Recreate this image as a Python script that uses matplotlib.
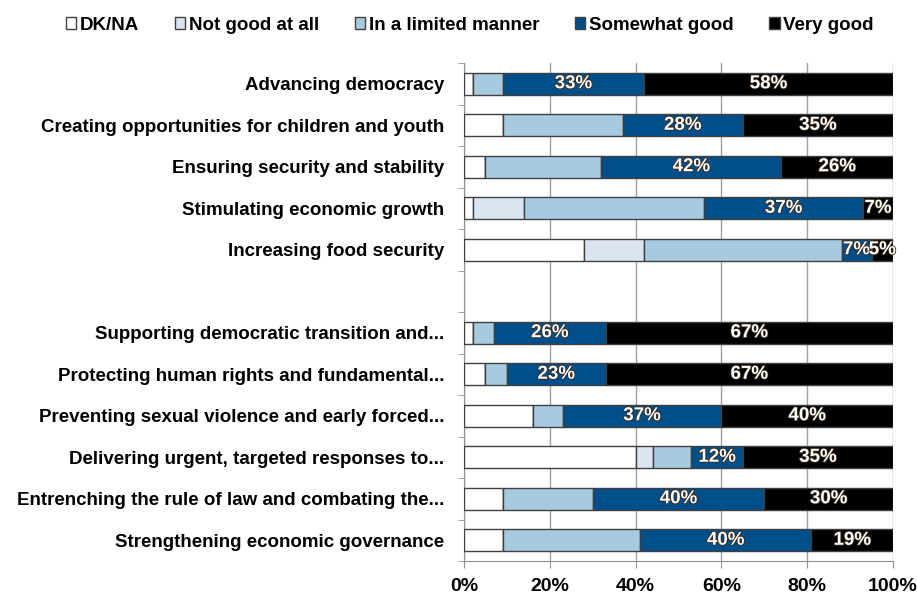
import numpy as np
import matplotlib.pyplot as plt
import matplotlib.patheffects as pe

plt.rcParams['font.family'] = ['Liberation Sans', 'DejaVu Sans']
plt.rcParams['font.weight'] = 'bold'

categories = [
    "Advancing democracy",
    "Creating opportunities for children and youth",
    "Ensuring security and stability",
    "Stimulating economic growth",
    "Increasing food security",
    "Supporting democratic transition and...",
    "Protecting human rights and fundamental...",
    "Preventing sexual violence and early forced...",
    "Delivering urgent, targeted responses to...",
    "Entrenching the rule of law and combating the...",
    "Strengthening economic governance",
]
# slot 5 is left empty between the two groups
slots = [0, 1, 2, 3, 4, 6, 7, 8, 9, 10, 11]

dk_na = [2, 9, 5, 2, 28, 2, 5, 16, 40, 9, 9]
not_good = [0, 0, 0, 12, 14, 0, 0, 0, 4, 0, 0]
limited = [7, 28, 27, 42, 46, 5, 5, 7, 9, 21, 32]
somewhat = [33, 28, 42, 37, 7, 26, 23, 37, 12, 40, 40]
very_good = [58, 35, 26, 7, 5, 67, 67, 40, 35, 30, 19]

series = [
    ("DK/NA", dk_na, "#ffffff", False),
    ("Not good at all", not_good, "#dbe5f1", False),
    ("In a limited manner", limited, "#a6cae0", False),
    ("Somewhat good", somewhat, "#004f8b", True),
    ("Very good", very_good, "#000000", True),
]

fig = plt.figure(figsize=(9.17, 6.01), dpi=100)
ax = fig.add_axes([464 / 917, 1 - 561 / 601, 429 / 917, 498 / 601])

y = np.array(slots)
left = np.zeros(len(slots))
handles = []
for name, vals, color, labelled in series:
    vals = np.array(vals, dtype=float)
    bars = ax.barh(y, vals, left=left, height=0.54, color=color,
                   edgecolor="#404040", linewidth=1.0, zorder=3, label=name)
    handles.append(bars)
    if labelled:
        for yi, l, v in zip(y, left, vals):
            if v > 0:
                ax.text(l + v / 2, yi, f"{int(v)}%", ha="center", va="center",
                        color="white", fontsize=13.5, fontweight="bold", zorder=4,
                        path_effects=[pe.withStroke(linewidth=1.2, foreground="#3a2a1a")])
    left = left + vals

ax.set_xlim(0, 100)
ax.set_ylim(11.5, -0.5)
ax.set_xticks(np.arange(0, 101, 20))
ax.set_xticklabels([f"{t}%" for t in range(0, 101, 20)], fontsize=14, fontweight="bold")
ax.set_yticks(slots)
ax.set_yticklabels(categories, fontsize=13.5, fontweight="bold")
ax.set_yticks(np.arange(-0.5, 12, 1), minor=True)
ax.tick_params(axis="y", which="major", length=0, pad=14)
ax.tick_params(axis="y", which="minor", length=4, color="#909090", direction="out")
ax.tick_params(axis="x", length=5, color="#909090", pad=7)

ax.grid(axis="x", color="#a0a0a0", linewidth=1.0, zorder=0)
ax.set_axisbelow(True)
for s in ["top", "right"]:
    ax.spines[s].set_visible(False)
for s in ["left", "bottom"]:
    ax.spines[s].set_color("#909090")

fig.legend(handles=handles, labels=[s[0] for s in series], loc="center",
           bbox_to_anchor=(470 / 917, 1 - 25 / 601), ncol=5, frameon=False,
           fontsize=13.5, handlelength=0.55, handleheight=0.55, handletextpad=0.2,
           columnspacing=1.9)

fig.savefig("out.png", dpi=100)
